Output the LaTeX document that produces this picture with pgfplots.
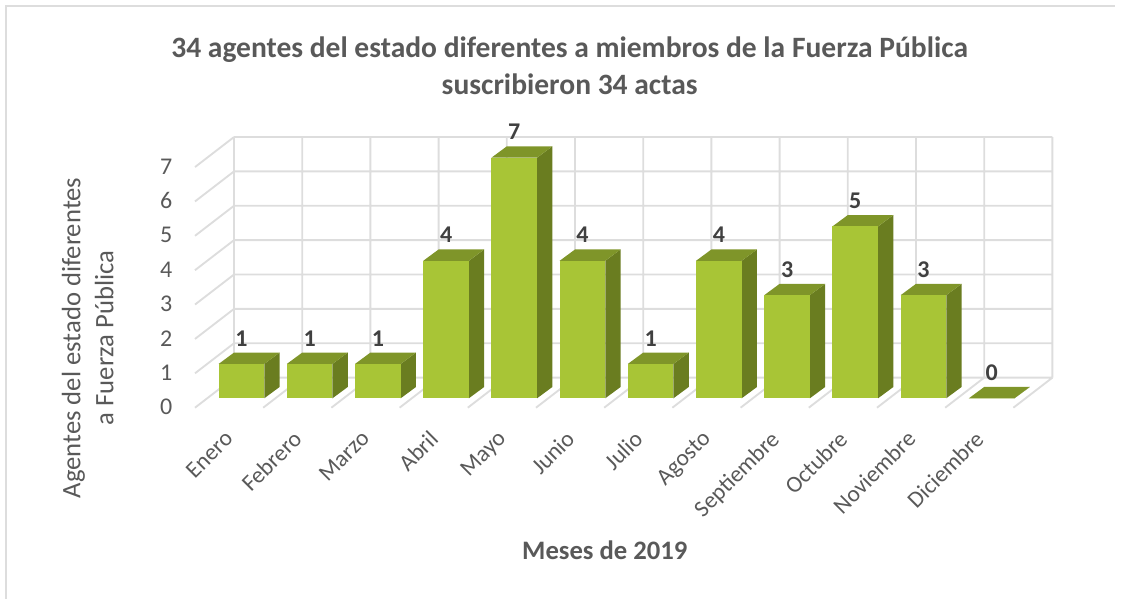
\documentclass[border=0pt]{standalone}
\usepackage{pgfplots}
\usepackage{pgfplotstable}
\usepackage{fontspec}
\setmainfont{Carlito}
\pgfplotsset{compat=1.18}
\definecolor{frente}{RGB}{168,197,54}
\definecolor{techo}{RGB}{127,149,41}
\definecolor{lado}{RGB}{106,125,32}
\definecolor{rejilla}{RGB}{221,221,221}
\definecolor{texto}{RGB}{89,89,89}
\definecolor{etiqueta}{RGB}{64,64,64}

\pgfplotstableread{
x valor
0.682 1
1.682 1
2.682 1
3.682 4
4.682 7
5.682 4
6.682 1
7.682 4
8.682 3
9.682 5
10.682 3
11.682 0
}\datos

\begin{document}
\begin{tikzpicture}[x=0.75pt,y=0.75pt]
\useasboundingbox (0,0) rectangle (1125,599);
\draw[rejilla,line width=1.4pt] (6,0) -- (6,593) -- (1115,593);
\begin{axis}[at={(146.25pt,143.475pt)},anchor=south west,scale only axis,
  width=643.05pt,height=203pt,clip=false,
  xmin=0,xmax=12.572,ymin=0,ymax=7.874,
  axis line style={draw=none},tick style={draw=none},
  /pgf/number format/assume math mode=true,
  ytick={0,1,2,3,4,5,6,7},
  xtick={0.682,1.682,2.682,3.682,4.682,5.682,6.682,7.682,8.682,9.682,10.682,11.682},
  xticklabels={Enero,Febrero,Marzo,Abril,Mayo,Junio,Julio,Agosto,Septiembre,Octubre,Noviembre,Diciembre},
  yticklabel style={font=\fontsize{18}{18}\selectfont,text=texto,anchor=east,xshift=-13.5pt,yshift=0.5pt},
  xticklabel style={font=\fontsize{17.5}{18}\selectfont,text=texto,rotate=45,anchor=north east,yshift=1.6pt,xshift=-17.5pt},
  title={\textbf{34 agentes del estado diferentes a miembros de la Fuerza Pública}\\\textbf{suscribieron 34 actas}},
  title style={at={(axis description cs:0.437,1.233)},anchor=center,align=center,
    font=\fontsize{22.15}{27.75}\selectfont,text=texto},
  xlabel={\textbf{Meses de 2019}},
  xlabel style={at={(axis description cs:0.478,-0.526)},anchor=center,
    font=\fontsize{20}{24}\selectfont,text=texto},
  ylabel={Agentes del estado diferentes\\a Fuerza Pública},
  ylabel style={at={(axis description cs:-0.125,0.2575)},anchor=center,align=center,
    font=\fontsize{20}{24.75}\selectfont,text=texto},
]
% paredes y piso
\addplot[rejilla,line width=1.4pt,forget plot,unbounded coords=jump] coordinates {
(0.572,0.874) (12.572,0.874)
(nan,nan) (0.572,1.874) (12.572,1.874)
(nan,nan) (0.572,2.874) (12.572,2.874)
(nan,nan) (0.572,3.874) (12.572,3.874)
(nan,nan) (0.572,4.874) (12.572,4.874)
(nan,nan) (0.572,5.874) (12.572,5.874)
(nan,nan) (0.572,6.874) (12.572,6.874)
(nan,nan) (0.572,7.874) (12.572,7.874)
(nan,nan) (0,0) (0.572,0.874)
(nan,nan) (0,1) (0.572,1.874)
(nan,nan) (0,2) (0.572,2.874)
(nan,nan) (0,3) (0.572,3.874)
(nan,nan) (0,4) (0.572,4.874)
(nan,nan) (0,5) (0.572,5.874)
(nan,nan) (0,6) (0.572,6.874)
(nan,nan) (0,7) (0.572,7.874)
(nan,nan) (0.572,0.874) (0.572,7.874)
(nan,nan) (1.572,0.874) (1.572,7.874)
(nan,nan) (2.572,0.874) (2.572,7.874)
(nan,nan) (3.572,0.874) (3.572,7.874)
(nan,nan) (4.572,0.874) (4.572,7.874)
(nan,nan) (5.572,0.874) (5.572,7.874)
(nan,nan) (6.572,0.874) (6.572,7.874)
(nan,nan) (7.572,0.874) (7.572,7.874)
(nan,nan) (8.572,0.874) (8.572,7.874)
(nan,nan) (9.572,0.874) (9.572,7.874)
(nan,nan) (10.572,0.874) (10.572,7.874)
(nan,nan) (11.572,0.874) (11.572,7.874)
(nan,nan) (12.572,0.874) (12.572,7.874)
(nan,nan) (1,0) (1.572,0.874)
(nan,nan) (2,0) (2.572,0.874)
(nan,nan) (3,0) (3.572,0.874)
(nan,nan) (4,0) (4.572,0.874)
(nan,nan) (5,0) (5.572,0.874)
(nan,nan) (6,0) (6.572,0.874)
(nan,nan) (7,0) (7.572,0.874)
(nan,nan) (8,0) (8.572,0.874)
(nan,nan) (9,0) (9.572,0.874)
(nan,nan) (10,0) (10.572,0.874)
(nan,nan) (11,0) (11.572,0.874)
(nan,nan) (12,0) (12.572,0.874)
};
% barras: frente, techo y lado
\pgfplotsforeachungrouped \i in {0,...,11}{
  \pgfplotstablegetelem{\i}{valor}\of\datos
  \let\val\pgfplotsretval
  \pgfmathsetmacro\xa{\i+0.3475}
  \pgfmathsetmacro\xb{\i+1.016}
  \pgfmathsetmacro\xc{\xa+0.2243}
  \pgfmathsetmacro\xd{\xb+0.2243}
  \pgfmathsetmacro\ya{0.274}
  \pgfmathsetmacro\yb{0.274+\val}
  \pgfmathsetmacro\yc{0.603}
  \pgfmathsetmacro\yd{\yb+0.329}
  \addplot[fill=lado,draw=none,forget plot] coordinates {(\xb,\ya) (\xd,\yc) (\xd,\yd) (\xb,\yb)} --cycle;
  \addplot[fill=techo,draw=none,forget plot] coordinates {(\xa,\yb) (\xb,\yb) (\xd,\yd) (\xc,\yd)} --cycle;
  \addplot[fill=frente,draw=none,forget plot] coordinates {(\xa,\ya) (\xb,\ya) (\xb,\yb) (\xa,\yb)} --cycle;
}
% etiquetas de datos
\addplot[draw=none,forget plot,nodes near coords,point meta=explicit symbolic,
  every node near coord/.append style={anchor=center,yshift=19.2pt,
    font=\fontsize{18}{18}\selectfont\bfseries,text=etiqueta}]
  table[x=x,y expr=\thisrow{valor}+0.274,meta=valor] {\datos};
\end{axis}
\end{tikzpicture}
\end{document}
